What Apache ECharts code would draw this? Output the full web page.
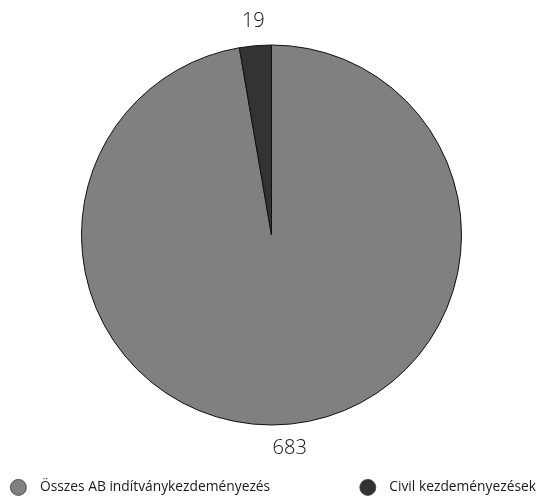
<!DOCTYPE html>
<html>
<head>
<meta charset="utf-8">
<script src="https://cdn.jsdelivr.net/npm/echarts@6/dist/echarts.min.js"></script>
<style>
  html, body { margin: 0; padding: 0; background: #fff; }
  #chart { width: 541px; height: 497px; }
</style>
</head>
<body>
<div id="chart"></div>
<script>
// Slice names, values and fill colours
const categories = ['Összes AB indítványkezdeményezés', 'Civil kezdeményezések'];
const values = [683, 19];
const colors = ['#808080', '#333333'];

const chart = echarts.init(document.getElementById('chart'), null, { renderer: 'canvas' });

const fontFamily = '"Open Sans", "Noto Sans", sans-serif';
const cx = 271.5, cy = 235, radius = 190, labelRadius = 214;

// Mid angle of every slice, going clockwise from 12 o'clock
const total = values.reduce((a, b) => a + b, 0);
const midAngles = [];
let acc = 0;
values.forEach(v => {
  const start = 90 - acc / total * 360;
  acc += v;
  const end = 90 - acc / total * 360;
  midAngles.push((start + end) / 2 * Math.PI / 180);
});

const legendText = { fontFamily: fontFamily, fontSize: 13.8, color: '#1a1a1a', fontWeight: 400 };
const legendIcon = { borderColor: '#3a3a3a', borderWidth: 0.8 };

chart.setOption({
  animation: false,
  backgroundColor: '#ffffff',
  color: colors,
  legend: [
    {
      data: [categories[0]],
      left: 10,
      top: 479,
      padding: 0,
      icon: 'circle',
      itemWidth: 17,
      itemHeight: 16,
      itemGap: 10,
      itemStyle: legendIcon,
      textStyle: Object.assign({ padding: [0, 0, 0, 8] }, legendText)
    },
    {
      data: [categories[1]],
      right: 5,
      top: 479,
      padding: 0,
      icon: 'circle',
      itemWidth: 17,
      itemHeight: 16,
      itemGap: 10,
      itemStyle: legendIcon,
      textStyle: Object.assign({ padding: [0, 0, 0, 8] }, legendText)
    }
  ],
  series: [{
    type: 'pie',
    center: [cx, cy],
    radius: radius,
    startAngle: 90,
    clockwise: true,
    avoidLabelOverlap: false,
    itemStyle: { borderColor: '#111', borderWidth: 1 },
    label: {
      show: true,
      position: 'outside',
      formatter: '{c}',
      fontFamily: fontFamily,
      fontSize: 20,
      fontWeight: 300,
      color: '#111'
    },
    labelLine: { show: false },
    labelLayout: function (params) {
      const a = midAngles[params.dataIndex];
      return {
        x: cx + labelRadius * Math.cos(a),
        y: cy - labelRadius * Math.sin(a),
        align: 'center',
        verticalAlign: 'middle'
      };
    },
    emphasis: { disabled: true },
    data: categories.map((name, i) => ({ name: name, value: values[i] }))
  }]
});
</script>
</body>
</html>
